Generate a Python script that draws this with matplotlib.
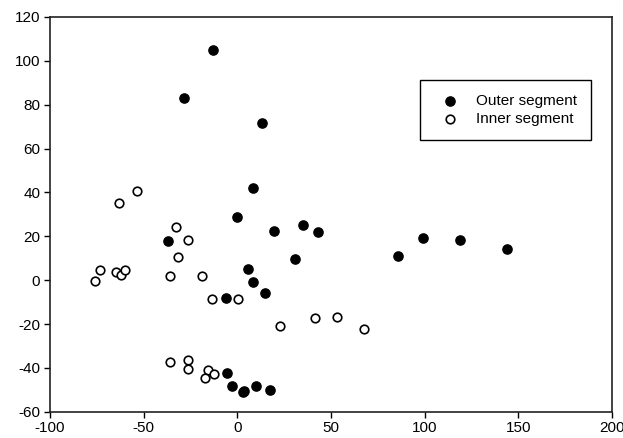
import numpy as np
import matplotlib
matplotlib.use('Agg')
import matplotlib.pyplot as plt

plt.rcParams['font.family'] = ['Liberation Sans', 'DejaVu Sans']
plt.rcParams['axes.unicode_minus'] = False

# outer segment (filled)
outer_x = [-13.2, -28.7, 13.1, 8.1, -0.2, 19.7, 35.1, 43.3, 30.7, -37.0,
           5.6, 8.6, 14.5, -6.3, -5.4, -2.9, 3.8, 3.0, 9.7, 17.2,
           85.6, 99.3, 119.0, 144.0]
outer_y = [105.1, 82.9, 71.7, 42.2, 28.8, 22.4, 25.2, 21.8, 9.8, 17.9,
           5.1, -0.7, -5.7, -8.0, -42.5, -48.4, -50.7, -51.2, -48.4, -50.2,
           11.0, 19.2, 18.5, 14.4]

# inner segment (open)
inner_x = [-53.5, -63.1, -32.6, -26.3, -31.5, -35.8, -19.1, -76.1, -73.1,
           -64.9, -62.0, -59.9, -13.7, 0.3, 22.9, 41.5, 53.3, 67.5,
           -35.9, -26.3, -26.3, -15.9, -17.5, -12.2]
inner_y = [40.5, 35.2, 24.1, 18.3, 10.6, 2.0, 2.0, -0.4, 4.5,
           3.9, 2.4, 4.5, -8.7, -8.5, -20.9, -17.3, -16.8, -22.3,
           -37.3, -36.5, -40.4, -41.0, -44.5, -42.9]

fig = plt.figure(figsize=(6.23, 4.38), dpi=100)
ax = fig.add_axes([0.0803, 0.06, 0.902, 0.9012])

ax.scatter(outer_x, outer_y, s=44, c='black', edgecolors='black', linewidths=1, label='Outer segment', zorder=3)
ax.scatter(inner_x, inner_y, s=38, facecolors='white', edgecolors='black', linewidths=1.2, label='Inner segment', zorder=3)

ax.set_xlim(-100, 200)
ax.set_ylim(-60, 120)
ax.set_xticks(np.arange(-100, 201, 50))
ax.set_yticks(np.arange(-60, 121, 20))
ax.tick_params(direction='out', length=4, width=1, labelsize=11, colors='black', pad=3)
for sp in ax.spines.values():
    sp.set_linewidth(1.2)
    sp.set_color('#222222')

leg = ax.legend(loc='upper left', bbox_to_anchor=(0.674, 0.817), bbox_transform=fig.transFigure,
                fancybox=False, edgecolor='black', framealpha=1, fontsize=11,
                handletextpad=0.7, borderpad=0.9, borderaxespad=0, labelspacing=0.3,
                scatterpoints=1, handlelength=2.1)
leg.get_frame().set_linewidth(1.0)

fig.savefig('out.png', dpi=100)
